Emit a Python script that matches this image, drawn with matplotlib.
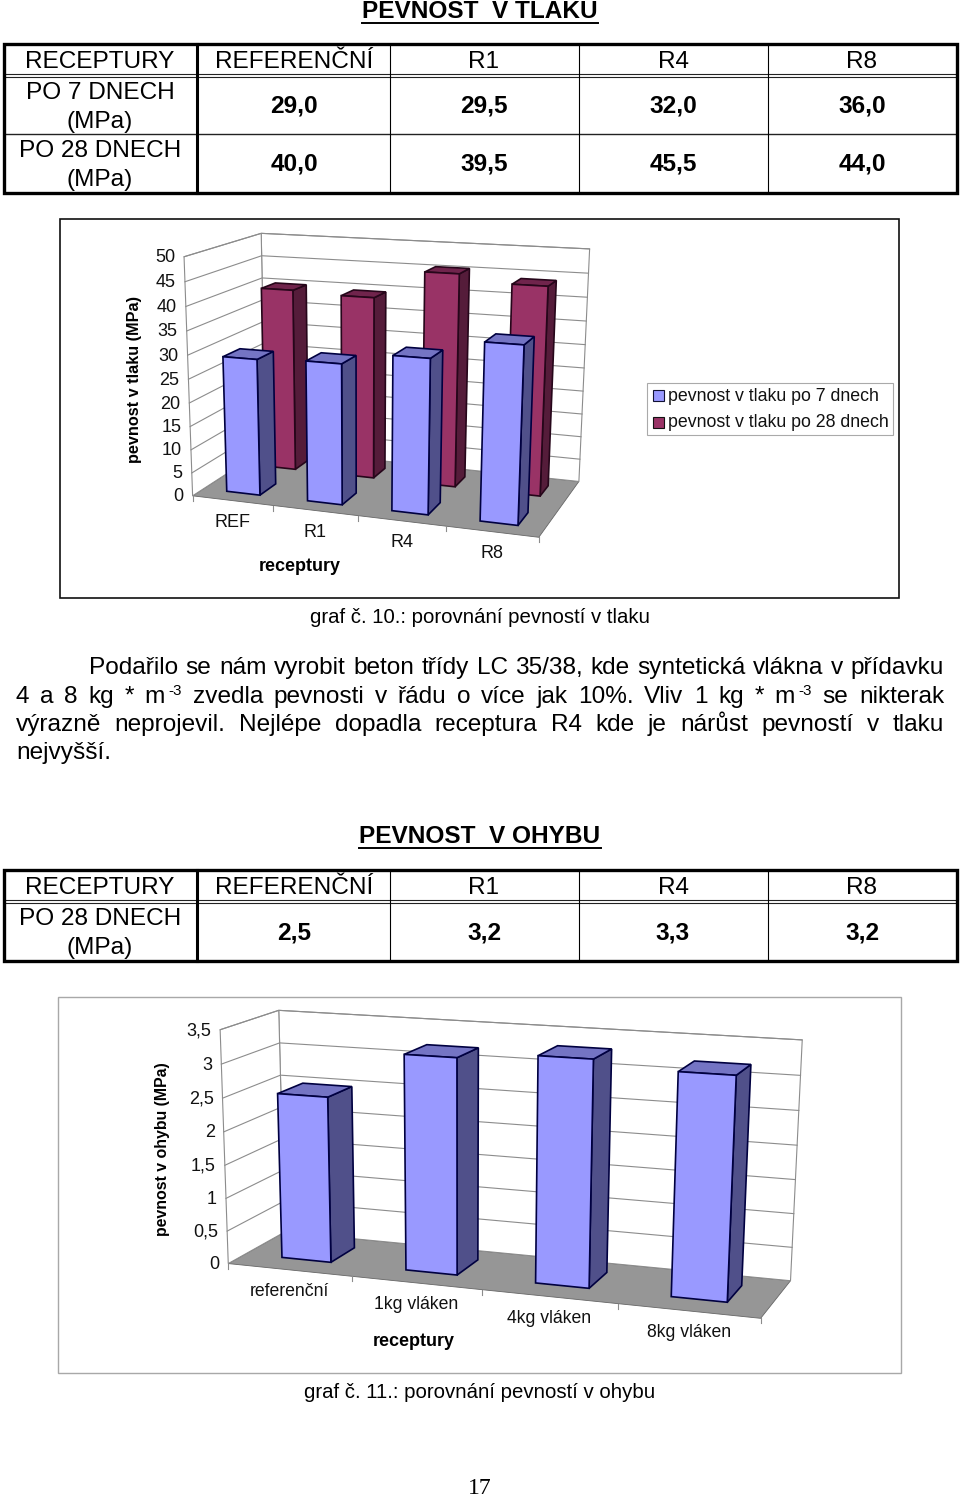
import numpy as np
import matplotlib
matplotlib.use('Agg')
import matplotlib.pyplot as plt
from matplotlib.patches import Polygon, Rectangle

plt.rcParams['font.family'] = ['Liberation Sans', 'DejaVu Sans']

# data
columns = ['RECEPTURY', 'REFERENČNÍ', 'R1', 'R4', 'R8']
tlak_7 = [29.0, 29.5, 32.0, 36.0]
tlak_28 = [40.0, 39.5, 45.5, 44.0]
ohyb_28 = [2.5, 3.2, 3.3, 3.2]
tlak_cats = ['REF', 'R1', 'R4', 'R8']
ohyb_cats = ['referenční', '1kg vláken', '4kg vláken', '8kg vláken']
tlak_ticks = [0, 5, 10, 15, 20, 25, 30, 35, 40, 45, 50]
ohyb_ticks = [0, 0.5, 1, 1.5, 2, 2.5, 3, 3.5]
ohyb_tick_labels = ['0', '0,5', '1', '1,5', '2', '2,5', '3', '3,5']

BLUE = ('#9999ff', '#50508a', '#7474c4', '#000040')
MAROON = ('#993366', '#551c3a', '#70244c', '#26061a')

fig = plt.figure(figsize=(9.6, 14.99), dpi=100)
ax = fig.add_axes([0, 0, 1, 1])
ax.set_xlim(0, 960)
ax.set_ylim(1499, 0)
ax.axis('off')


def fit_camera(corners):
    # projective fit of the box corners (u, depth, v) -> pixel
    rows, rhs = [], []
    for (u, d, v), (x, y) in corners:
        rows.append([u, d, v, 1, 0, 0, 0, 0, -x * u, -x * d, -x * v])
        rows.append([0, 0, 0, 0, u, d, v, 1, -y * u, -y * d, -y * v])
        rhs += [x, y]
    p = np.linalg.lstsq(np.array(rows, float), np.array(rhs, float), rcond=None)[0]
    return np.append(p, 1).reshape(3, 4)


def project(cam, u, d, v):
    x, y, w = cam @ np.array([u, d, v, 1.0])
    return x / w, y / w


def face(cam, pts, color, edge, lw, z):
    xy = [project(cam, *p) for p in pts]
    ax.add_patch(Polygon(xy, closed=True, facecolor=color, edgecolor=edge, linewidth=lw, zorder=z, joinstyle='miter'))


def draw_box(cam, ticks, labels, fs):
    vmax = max(ticks)
    face(cam, [(0, 0, 0), (1, 0, 0), (1, 1, 0), (0, 1, 0)], '#969696', '#666666', 0.6, 1)
    face(cam, [(0, 1, 0), (1, 1, 0), (1, 1, 1), (0, 1, 1)], 'white', '#8c8c8c', 0.8, 1)
    face(cam, [(0, 0, 0), (0, 1, 0), (0, 1, 1), (0, 0, 1)], 'white', '#8c8c8c', 0.8, 1)
    for t, lab in zip(ticks, labels):
        v = t / vmax
        pts = [project(cam, 0, 0, v), project(cam, 0, 1, v), project(cam, 1, 1, v)]
        if t > 0:
            ax.plot([p[0] for p in pts], [p[1] for p in pts], color='#8c8c8c', lw=0.8, zorder=1.5)
        ax.text(pts[0][0] - 9, pts[0][1] + 1, lab, ha='right', va='center', fontsize=fs, color='#111111', zorder=5)
    for i in range(5):
        x, y = project(cam, i / 4, 0, 0)
        ax.plot([x, x], [y, y + 5], color='#8c8c8c', lw=0.8, zorder=1.5)


def draw_bar(cam, u0, u1, d0, d1, v, cols, z):
    front, side, top, edge = cols
    face(cam, [(u1, d0, 0), (u1, d1, 0), (u1, d1, v), (u1, d0, v)], side, edge, 1.2, z)
    face(cam, [(u0, d0, v), (u1, d0, v), (u1, d1, v), (u0, d1, v)], top, edge, 1.2, z)
    face(cam, [(u0, d0, 0), (u1, d0, 0), (u1, d0, v), (u0, d0, v)], front, edge, 1.2, z)


def draw_table(top, bottom, header, row_lines, rows, title, title_y, title_half, underline_y):
    col_x = [197, 390, 579, 768]
    left, right = 4, 957
    ax.plot([left, right], [header - 1, header - 1], color='#222222', lw=0.8, zorder=3)
    ax.plot([left, right], [header + 1.5, header + 1.5], color='#222222', lw=0.8, zorder=3)
    for y in row_lines:
        ax.plot([left, right], [y, y], color='#222222', lw=1.0, zorder=3)
    for i, x in enumerate(col_x):
        ax.plot([x, x], [top, bottom], color='black', lw=2.2 if i == 0 else 0.8, zorder=3)
    ax.add_patch(Rectangle((left, top), right - left, bottom - top, fill=False, edgecolor='black', linewidth=2.4, zorder=4))
    centers = [100, 294, 484, 673, 862]
    for cx, name in zip(centers, columns):
        ax.text(cx, (top + header) / 2 + 2.5, name, ha='center', va='center', fontsize=17.6)
    edges = [header] + row_lines + [bottom]
    for r, (label, vals) in enumerate(rows):
        y0, y1 = edges[r], edges[r + 1]
        shift = 1 if r == 0 else 0
        ax.text(100, y0 + 17 + shift, label, ha='center', va='center', fontsize=17.6)
        ax.text(100, y0 + 46 + shift, '(MPa)', ha='center', va='center', fontsize=17.6)
        for cx, val in zip(centers[1:], vals):
            ax.text(cx, (y0 + y1) / 2 + 0.5 + shift, f'{val:.1f}'.replace('.', ','), ha='center', va='center',
                    fontsize=17.6, fontweight='bold')
    ax.text(480, title_y, title, ha='center', va='center', fontsize=17.6, fontweight='bold')
    ax.plot([480 - title_half, 480 + title_half], [underline_y, underline_y], color='black', lw=1.4)


def justified(y, x0, x1, words, fs):
    # word list, a tuple marks the raised exponent that follows a word
    r = fig.canvas.get_renderer()
    items = []
    for w in words:
        sup = isinstance(w, tuple)
        t = ax.text(0, y - 6 if sup else y, w[0] if sup else w, fontsize=fs * 0.62 if sup else fs, va='center', ha='left')
        items.append((t, t.get_window_extent(r).width, sup))
    total = sum(i[1] for i in items)
    gaps = sum(1 for i in items[1:] if not i[2])
    sup_gap = 4
    nsup = sum(1 for i in items if i[2])
    gap = (x1 - x0 - total - nsup * sup_gap) / gaps
    x = x0
    for n, (t, w, sup) in enumerate(items):
        if n:
            x += sup_gap if sup else gap
        t.set_x(x)
        x += w


# first table
draw_table(44, 193, 75, [134], [('PO 7 DNECH', tlak_7), ('PO 28 DNECH', tlak_28)],
           'PEVNOST  V TLAKU', 11, 118, 22.5)

# first chart
ax.add_patch(Rectangle((60, 219), 839, 379, fill=False, edgecolor='#111111', linewidth=1.2))
cam1 = fit_camera([((0, 0, 1), (182.7, 256.7)), ((0, 0, 0), (194, 495.5)),
                   ((0, 1, 1), (262.7, 233.3)), ((0, 1, 0), (264, 449)),
                   ((1, 1, 1), (589.3, 249)), ((1, 1, 0), (579.3, 481)),
                   ((1, 0, 0), (538.7, 537.7))])
draw_box(cam1, tlak_ticks, [str(t) for t in tlak_ticks], 13)
for i in range(4):
    uc = (i + 0.5) / 4
    draw_bar(cam1, uc - 0.05, uc + 0.05, 0.66, 0.86, tlak_28[i] / 50, MAROON, 2 + i * 0.1)
for i in range(4):
    uc = (i + 0.5) / 4
    draw_bar(cam1, uc - 0.052, uc + 0.052, 0.14, 0.36, tlak_7[i] / 50, BLUE, 3 + i * 0.1)
for i, lab in enumerate(tlak_cats):
    x, y = project(cam1, (i + 0.5) / 4, 0, 0)
    ax.text(x, y + 22, lab, ha='center', va='center', fontsize=13, color='#111111')
ax.text(134, 379, 'pevnost v tlaku (MPa)', rotation=90, ha='center', va='center', fontsize=11.7, fontweight='bold')
ax.text(300, 566, 'receptury', ha='center', va='center', fontsize=13, fontweight='bold')

# legend
ax.add_patch(Rectangle((647, 383), 246, 52, facecolor='white', edgecolor='#aaaaaa', linewidth=0.8))
ax.add_patch(Rectangle((653, 390), 11, 11, facecolor=BLUE[0], edgecolor='#111133', linewidth=0.8))
ax.add_patch(Rectangle((653, 417), 11, 11, facecolor=MAROON[0], edgecolor='#111111', linewidth=0.8))
ax.text(668, 396, 'pevnost v tlaku po 7 dnech', va='center', fontsize=12.8, color='#111111')
ax.text(668, 422, 'pevnost v tlaku po 28 dnech', va='center', fontsize=12.8, color='#111111')

ax.text(480, 617, 'graf č. 10.: porovnání pevností v tlaku', ha='center', va='center', fontsize=14.7)

# body text
fig.canvas.draw()
justified(668, 89, 944, 'Podařilo se nám vyrobit beton třídy LC 35/38, kde syntetická vlákna v přídavku'.split(), 17.6)
justified(697, 16, 944, ['4', 'a', '8', 'kg', '*', 'm', ('-3',), 'zvedla', 'pevnosti', 'v', 'řádu', 'o', 'více', 'jak',
                         '10%.', 'Vliv', '1', 'kg', '*', 'm', ('-3',), 'se', 'nikterak'], 17.6)
justified(725, 16, 944, 'výrazně neprojevil. Nejlépe dopadla receptura R4 kde je nárůst pevností v tlaku'.split(), 17.6)
ax.text(16, 753, 'nejvyšší.', va='center', fontsize=17.6)

# second table
draw_table(870, 961, 901, [], [('PO 28 DNECH', ohyb_28)], 'PEVNOST  V OHYBU', 836, 121, 848)

# second chart
ax.add_patch(Rectangle((58, 997), 843, 376, fill=False, edgecolor='#a8a8a8', linewidth=1.0))
cam2 = fit_camera([((0, 0, 1), (218.3, 1030)), ((0, 0, 0), (230, 1262.7)),
                   ((0, 1, 1), (280.7, 1010)), ((0, 1, 0), (282.7, 1233)),
                   ((1, 1, 1), (802, 1040)), ((1, 1, 0), (790.7, 1280)),
                   ((1, 0, 0), (760.7, 1319))])
draw_box(cam2, ohyb_ticks, ohyb_tick_labels, 13)
for i in range(4):
    uc = (i + 0.5) / 4
    draw_bar(cam2, uc - 0.05, uc + 0.05, 0.3, 0.75, ohyb_28[i] / 3.5, BLUE, 3 + i * 0.1)
for i, lab in enumerate(ohyb_cats):
    x, y = project(cam2, (i + 0.5) / 4, 0, 0)
    ax.text(x, y + 22, lab, ha='center', va='center', fontsize=12.7, color='#111111')
ax.text(163, 1149, 'pevnost v ohybu (MPa)', rotation=90, ha='center', va='center', fontsize=11.4, fontweight='bold')
ax.text(414, 1342, 'receptury', ha='center', va='center', fontsize=13, fontweight='bold')

ax.text(480, 1392, 'graf č. 11.: porovnání pevností v ohybu', ha='center', va='center', fontsize=14.7)
ax.text(480, 1489, '17', ha='center', va='center', fontsize=17, family='Liberation Serif')

fig.savefig('out.png', dpi=100, facecolor='white')
